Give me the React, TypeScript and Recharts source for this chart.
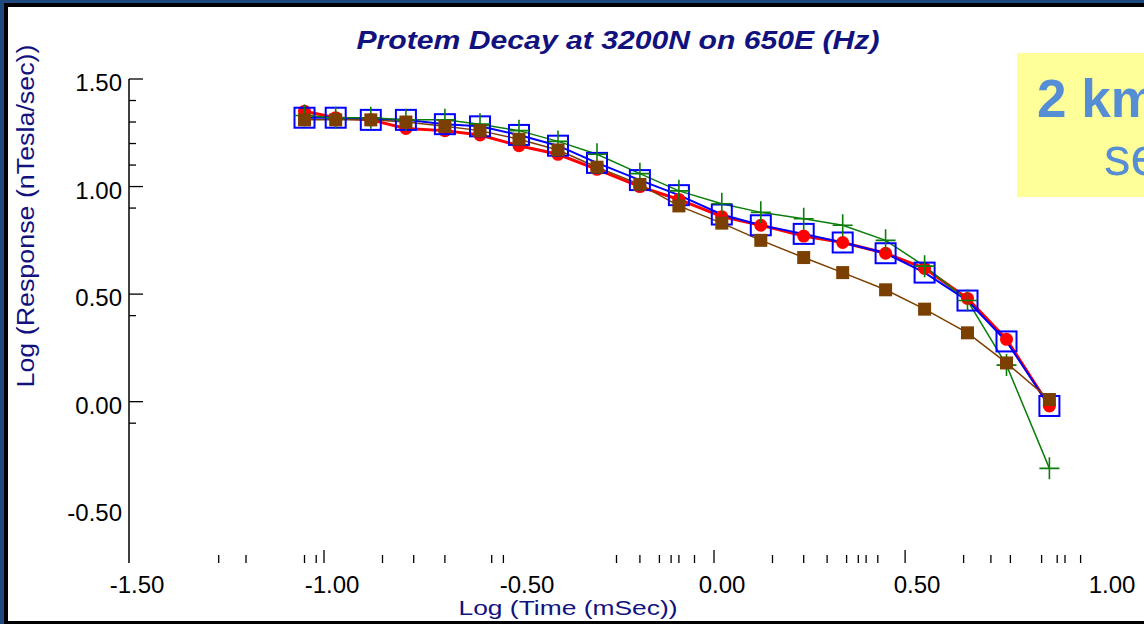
import { Line, LineChart, XAxis, YAxis } from "recharts"

// log10 of gate time (ms)
const logTime = [-1.05, -0.97, -0.88, -0.79, -0.69, -0.6, -0.5, -0.4, -0.3, -0.19, -0.09, 0.02, 0.12, 0.23, 0.33, 0.44, 0.54, 0.65, 0.75, 0.86]

// log10 response (nT/s) for the four soundings
const redResp = [1.35, 1.32, 1.31, 1.27, 1.26, 1.24, 1.19, 1.15, 1.08, 1.0, 0.94, 0.86, 0.82, 0.77, 0.74, 0.69, 0.62, 0.48, 0.29, -0.02]
const blueResp = [1.32, 1.32, 1.31, 1.31, 1.29, 1.28, 1.24, 1.19, 1.11, 1.03, 0.96, 0.87, 0.82, 0.78, 0.74, 0.69, 0.6, 0.47, 0.28, -0.02]
const greenResp = [1.33, 1.32, 1.32, 1.31, 1.31, 1.29, 1.26, 1.21, 1.15, 1.06, 0.98, 0.92, 0.88, 0.85, 0.82, 0.75, 0.63, 0.47, 0.17, -0.31]
const brownResp = [1.31, 1.31, 1.31, 1.3, 1.28, 1.26, 1.22, 1.17, 1.09, 1.01, 0.91, 0.83, 0.75, 0.67, 0.6, 0.52, 0.43, 0.32, 0.18, 0.01]

const xLabels = [-1.5, -1, -0.5, 0, 0.5, 1]
const xLong = [-1, 0, 0.49]
const xMinor = [-1.27, -1.2, -1.05, -1.02, -0.85, -0.77, -0.69, -0.57, -0.54, -0.25, -0.19, -0.14, -0.11, -0.09, -0.05, 0.15, 0.23, 0.29, 0.34, 0.37, 0.39, 0.42, 0.64, 0.71, 0.76, 0.84, 0.88, 0.9, 0.94]
const yLabels = [1.5, 1, 0.5, 0, -0.5]
const yLong = [1.5, 1, 0.5, 0]
const yMinor = [1.4, 1.3, 1.2, 1.1, 0.9, 0.4, -0.1]

const data = logTime.map((t, i) => ({
  t,
  red: redResp[i],
  blue: blueResp[i],
  green: greenResp[i],
  brown: brownResp[i],
}))

const FONT = "'Liberation Sans', Arial, Helvetica, sans-serif"
const NAVY = "#12127e"

function XTick(props: any) {
  const { x, y, payload } = props
  const v = payload.value
  const long = xLong.includes(v)
  const minor = xMinor.includes(v)
  return (
    <g>
      {(long || minor) && (
        <line x1={x} x2={x} y1={y} y2={y - (long ? 13 : 8)} stroke="#000" strokeWidth={1.3} />
      )}
      {xLabels.includes(v) && (
        <text x={x + 8} y={y + 30} textAnchor="middle" fontSize={24} fontFamily={FONT} fill="#000">
          {v.toFixed(2)}
        </text>
      )}
    </g>
  )
}

function YTick(props: any) {
  const { x, y, payload } = props
  const v = payload.value
  const long = yLong.includes(v)
  const minor = yMinor.includes(v)
  return (
    <g>
      {(long || minor) && (
        <line x1={x} x2={x + (long ? 14 : 7)} y1={y} y2={y} stroke="#000" strokeWidth={1.3} />
      )}
      {yLabels.includes(v) && (
        <text x={x - 7} y={y + 12} textAnchor="end" fontSize={24} fontFamily={FONT} fill="#000">
          {v.toFixed(2)}
        </text>
      )}
    </g>
  )
}

const RedDot = (p: any) =>
  p.cx == null ? null : <circle key={`r${p.index}`} cx={p.cx} cy={p.cy} r={6.5} fill="#ff0000" />

const BlueDot = (p: any) =>
  p.cx == null ? null : (
    <rect key={`b${p.index}`} x={p.cx - 10} y={p.cy - 10} width={20} height={20} fill="none" stroke="#0000ff" strokeWidth={2} />
  )

const GreenDot = (p: any) =>
  p.cx == null ? null : (
    <path
      key={`g${p.index}`}
      d={`M${p.cx - 10},${p.cy}H${p.cx + 10}M${p.cx},${p.cy - 11}V${p.cy + 11}`}
      stroke="#0b7d0b"
      strokeWidth={1.6}
      fill="none"
    />
  )

const BrownDot = (p: any) =>
  p.cx == null ? null : (
    <rect key={`n${p.index}`} x={p.cx - 6.5} y={p.cy - 6.5} width={13} height={13} fill="#7b3f00" />
  )

export default function App() {
  return (
    <div style={{ position: "relative", width: 1144, height: 624, overflow: "hidden", background: "#1e4a80" }}>
      <style>{`body{margin:0}`}</style>
      <div
        style={{
          position: "absolute",
          left: 4,
          top: 3,
          width: 1300,
          height: 621,
          boxSizing: "border-box",
          background: "#fff",
          borderLeft: "4px solid #000",
          borderTop: "4px solid #000",
          borderBottom: "3px solid #000",
        }}
      />
      <div style={{ position: "absolute", left: 1017, top: 53, width: 300, height: 144, background: "#ffff99" }} />
      <div style={{ position: "absolute", left: 0, top: 0 }}>
        <LineChart width={1190} height={624} data={data} margin={{ top: 79, right: 8, bottom: 0, left: 0 }}>
          <XAxis
            type="number"
            dataKey="t"
            domain={[-1.5, 1.2]}
            ticks={[...xLabels, ...xMinor, ...xLong.filter((v) => !xLabels.includes(v))]}
            interval={0}
            axisLine={false}
            tickLine={false}
            tickSize={0}
            tickMargin={0}
            tick={(p: any) => <XTick {...p} />}
            height={61}
            allowDataOverflow
          />
          <YAxis
            type="number"
            domain={[-0.75, 1.5]}
            ticks={[...yLabels, ...yMinor]}
            interval={0}
            width={129}
            axisLine={{ stroke: "#000", strokeWidth: 1.5 }}
            tickLine={false}
            tickSize={0}
            tickMargin={0}
            tick={(p: any) => <YTick {...p} />}
            allowDataOverflow
          />
          <Line type="linear" dataKey="red" stroke="#ff0000" strokeWidth={3} dot={RedDot} isAnimationActive={false} />
          <Line type="linear" dataKey="blue" stroke="#0000ff" strokeWidth={2} dot={BlueDot} isAnimationActive={false} />
          <Line type="linear" dataKey="green" stroke="#0b7d0b" strokeWidth={1.5} dot={GreenDot} isAnimationActive={false} />
          <Line type="linear" dataKey="brown" stroke="#7b3f00" strokeWidth={1.5} dot={BrownDot} isAnimationActive={false} />
        </LineChart>
      </div>
      <svg width={1144} height={624} style={{ position: "absolute", left: 0, top: 0, pointerEvents: "none" }}>
        <text
          x={618}
          y={49}
          textAnchor="middle"
          fontSize={26}
          fontWeight="bold"
          fontStyle="italic"
          fontFamily={FONT}
          fill={NAVY}
          textLength={523}
          lengthAdjust="spacingAndGlyphs"
        >
          Protem Decay at 3200N on 650E (Hz)
        </text>
        <text
          x={34}
          y={216}
          transform="rotate(-90 34 216)"
          textAnchor="middle"
          fontSize={23}
          fontFamily={FONT}
          fill={NAVY}
          textLength={343}
          lengthAdjust="spacingAndGlyphs"
        >
          Log (Response (nTesla/sec))
        </text>
        <text
          x={568}
          y={615}
          textAnchor="middle"
          fontSize={21}
          fontFamily={FONT}
          fill={NAVY}
          textLength={219}
          lengthAdjust="spacingAndGlyphs"
        >
          Log (Time (mSec))
        </text>
        <text x={1037} y={117} fontSize={53} fontWeight="bold" fontFamily={FONT} fill="#558ed5">
          2 km
        </text>
        <text x={1104} y={175} fontSize={53} fontFamily={FONT} fill="#558ed5">
          separation
        </text>
      </svg>
    </div>
  )
}
